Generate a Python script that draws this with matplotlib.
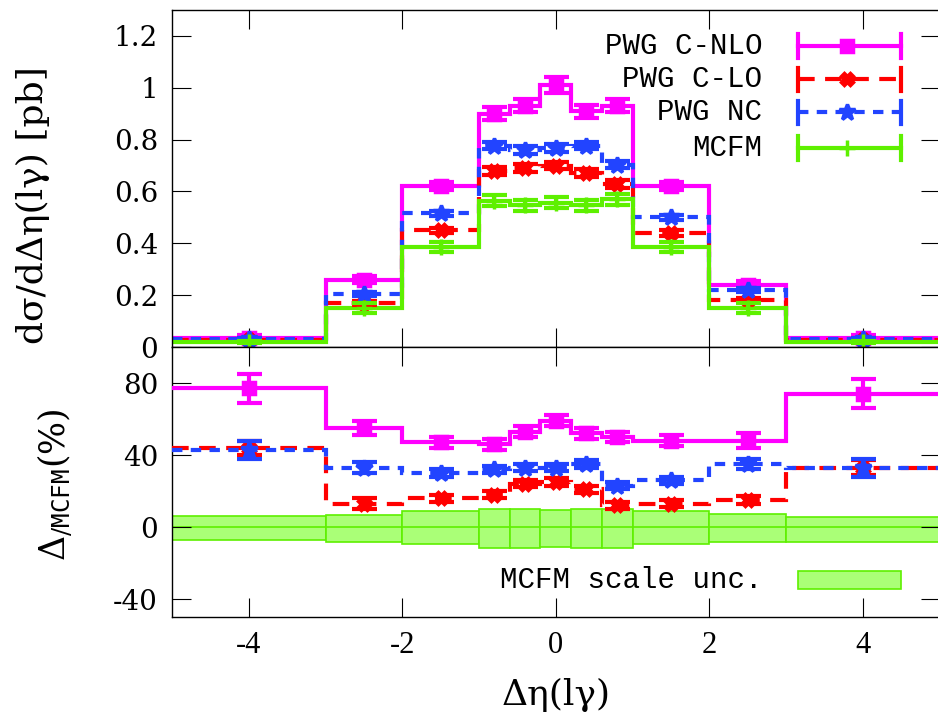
import numpy as np
import matplotlib
matplotlib.use('Agg')
import matplotlib.pyplot as plt
from matplotlib.patches import Rectangle

plt.rcParams['mathtext.fontset'] = 'dejavuserif'

# ---------------- data ----------------
edges = [-5, -3, -2, -1, -0.6, -0.2, 0.2, 0.6, 1, 2, 3, 5]
centers = [-4, -2.5, -1.5, -0.8, -0.4, 0, 0.4, 0.8, 1.5, 2.5, 4]

xs_cnlo = [0.035, 0.26, 0.62, 0.90, 0.93, 1.01, 0.91, 0.93, 0.62, 0.24, 0.035]
xs_clo = [0.028, 0.17, 0.45, 0.68, 0.69, 0.70, 0.67, 0.63, 0.44, 0.18, 0.028]
xs_nc = [0.030, 0.205, 0.515, 0.777, 0.76, 0.768, 0.777, 0.704, 0.50, 0.22, 0.030]
xs_mcfm = [0.020, 0.15, 0.385, 0.565, 0.546, 0.557, 0.546, 0.569, 0.385, 0.15, 0.020]

err_cnlo = [0.010, 0.015, 0.015, 0.025, 0.025, 0.03, 0.025, 0.025, 0.015, 0.015, 0.010]
err_clo = [0.005, 0.008, 0.010, 0.015, 0.015, 0.015, 0.015, 0.015, 0.010, 0.008, 0.005]
err_nc = [0.005, 0.008, 0.010, 0.015, 0.015, 0.015, 0.015, 0.015, 0.010, 0.008, 0.005]
err_mcfm = [0.004, 0.02, 0.02, 0.02, 0.02, 0.02, 0.02, 0.02, 0.02, 0.02, 0.004]

r_cnlo = [77, 55, 47, 46, 53, 59, 52, 50, 48, 48, 74]
r_clo = [44, 13, 16, 18, 24, 25, 21, 12, 13, 15, 33]
r_nc = [43, 33, 30, 32, 33, 33, 35, 23, 26, 35, 33]
rerr_cnlo = [8, 4, 3, 3, 3, 3, 3, 3, 3, 4, 8]
rerr_clo = [4, 3, 2, 2, 2, 2, 2, 2, 2, 2, 4]
rerr_nc = [5, 3, 2, 2, 2, 2, 2, 2, 2, 3, 5]

scale_up = [5.9, 6.5, 8.7, 10.2, 10.2, 9.7, 10.2, 10.2, 8.7, 7.4, 5.6]
scale_dn = [-7.4, -8.3, -9.6, -11.4, -11.4, -11.0, -11.4, -11.4, -9.6, -8.3, -8.3]

labels = ['PWG C-NLO', 'PWG C-LO', 'PWG NC', 'MCFM']
top_yticks = [0, 0.2, 0.4, 0.6, 0.8, 1.0, 1.2]
top_yticklabels = ['0', '0.2', '0.4', '0.6', '0.8', '1', '1.2']
bot_yticks = [-40, 0, 40, 80]
xticks = [-4, -2, 0, 2, 4]

# ---------------- styles ----------------
C_MAG = '#ff00ff'
C_RED = '#ff0000'
C_BLU = '#2244ff'
C_GRN = '#5ef000'
LW = 3.0
styles = [
    dict(color=C_MAG, ls='-', marker='s', ms=9),
    dict(color=C_RED, ls=(0, (4, 2.5)), marker='X', ms=9),
    dict(color=C_BLU, ls=(0, (2.5, 2)), marker='*', ms=12),
    dict(color=C_GRN, ls='-', marker='+', ms=12),
]

fig = plt.figure(figsize=(9.38, 7.22), dpi=100)
W, H = 938.0, 722.0
x_left, x_right = 172.0, 939.5
ax1 = fig.add_axes([x_left / W, 1 - 347 / H, (x_right - x_left) / W, (347 - 10) / H])
ax2 = fig.add_axes([x_left / W, 1 - 617 / H, (x_right - x_left) / W, (617 - 347) / H])

TICKFONT_Y = dict(family='DejaVu Serif', size=20)
TICKFONT_X = dict(family='Liberation Serif', size=22)
LEGFONT = dict(family='Liberation Mono', size=21)

def style_axes(ax):
    ax.set_xlim(-5, 5)
    ax.tick_params(direction='in', length=14, width=0.8, top=True, right=True,
                   pad=10)
    for s in ax.spines.values():
        s.set_linewidth(1.0)

# ---------------- top panel ----------------
style_axes(ax1)
ax1.set_ylim(0, 1.3)
series = [(xs_cnlo, err_cnlo), (xs_clo, err_clo), (xs_nc, err_nc), (xs_mcfm, err_mcfm)]
for (vals, errs), st in zip(series, styles):
    ax1.stairs(vals, edges, baseline=None, color=st['color'], lw=LW, ls=st['ls'])
    ax1.errorbar(centers, vals, yerr=errs, fmt='none', ecolor=st['color'],
                 elinewidth=LW, capsize=9, capthick=LW)
    ax1.plot(centers, vals, ls='none', marker=st['marker'], ms=st['ms'],
             color=st['color'], mew=2.5)
ax1.set_yticks(top_yticks)
ax1.set_yticklabels(top_yticklabels, **TICKFONT_Y)
ax1.set_xticks(xticks)
ax1.set_xticklabels([])
ax1.set_ylabel('dσ/dΔη(lγ) [pb]', family='DejaVu Serif', size=26)
ax1.yaxis.set_label_coords(-0.159, 0.42)

# legend (gnuplot style, drawn in axes coordinates)
leg_y = [0.893, 0.794, 0.696, 0.591]
lx0, lx1, lxm, ltext = 0.816, 0.950, 0.879, 0.769
for lab, st, yy in zip(labels, styles, leg_y):
    ax1.text(ltext, yy, lab, transform=ax1.transAxes, ha='right', va='center', **LEGFONT)
    ax1.plot([lx0, lx1], [yy, yy], transform=ax1.transAxes, color=st['color'],
             lw=LW, ls=st['ls'], clip_on=False)
    for xe in (lx0, lx1):
        ax1.plot([xe, xe], [yy - 0.035, yy + 0.035], transform=ax1.transAxes,
                 color=st['color'], lw=LW, clip_on=False)
    ax1.plot([lxm], [yy], transform=ax1.transAxes, marker=st['marker'],
             ms=st['ms'], color=st['color'], mew=2.5, clip_on=False)

# ---------------- bottom panel ----------------
style_axes(ax2)
ax2.set_ylim(-50, 100)
for i in range(len(centers)):
    ax2.add_patch(Rectangle((edges[i], scale_dn[i]), edges[i + 1] - edges[i],
                            scale_up[i] - scale_dn[i], facecolor='#aaff77',
                            edgecolor=C_GRN, lw=1.2, zorder=1))
ax2.stairs([0] * len(centers), edges, baseline=None, color=C_GRN, lw=1.2, zorder=1.5)

rseries = [(r_cnlo, rerr_cnlo), (r_clo, rerr_clo), (r_nc, rerr_nc)]
for (vals, errs), st in zip(rseries, styles[:3]):
    ax2.stairs(vals, edges, baseline=None, color=st['color'], lw=LW, ls=st['ls'], zorder=3)
    ax2.errorbar(centers, vals, yerr=errs, fmt='none', ecolor=st['color'],
                 elinewidth=LW, capsize=9, capthick=LW, zorder=3)
    ax2.plot(centers, vals, ls='none', marker=st['marker'], ms=st['ms'],
             color=st['color'], mew=2.5, zorder=3)

ax2.set_yticks(bot_yticks)
ax2.set_yticklabels([str(v) for v in bot_yticks], **TICKFONT_Y)
ax2.set_xticks(xticks)
ax2.set_xticklabels([str(v) for v in xticks], **TICKFONT_X)
ax2.set_ylabel(r'$\Delta_{/\mathtt{MCFM}}(\%)$', size=25)
ax2.yaxis.set_label_coords(-0.128, 0.489)
ax2.set_xlabel('Δη(lγ)', family='DejaVu Serif', size=26)
ax2.xaxis.set_label_coords(0.5, -0.225)

ax2.text(ltext, 0.137, 'MCFM scale unc.', transform=ax2.transAxes, ha='right',
         va='center', **LEGFONT)
ax2.add_patch(Rectangle((lx0, 0.137 - 0.035), lx1 - lx0, 0.07, transform=ax2.transAxes,
                        facecolor='#aaff77', edgecolor=C_GRN, lw=1.2, clip_on=False))

fig.savefig('out.png', dpi=100)
